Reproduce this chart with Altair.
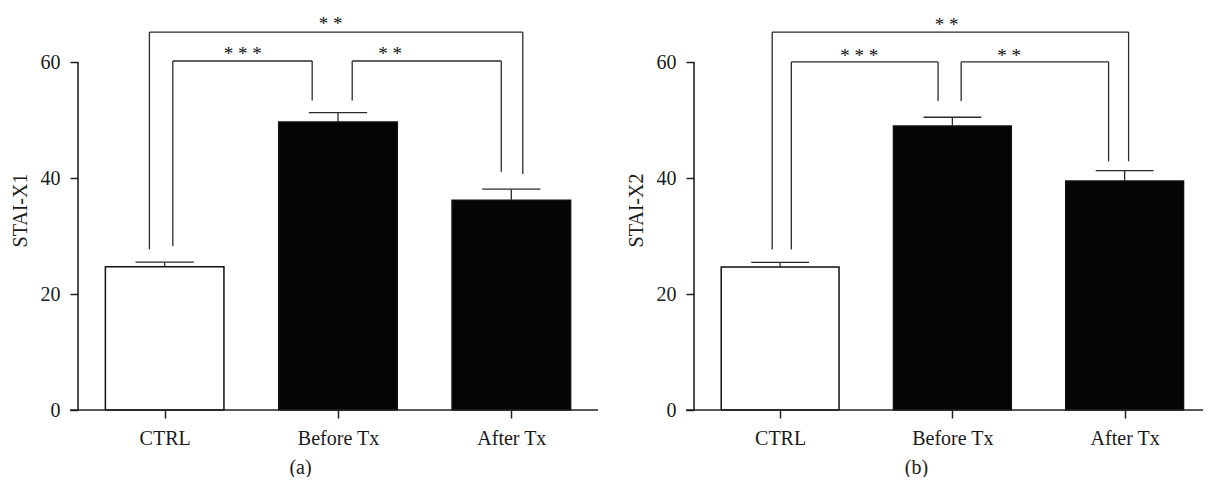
import altair as alt
import pandas as pd

# ---- data ----
groups = ["CTRL", "Before Tx", "After Tx"]
positions = [1, 2, 3]
bar_fill = ["white", "#050505", "#050505"]

a_means = [24.7, 49.7, 36.2]
a_err_top = [25.5, 51.3, 38.1]
b_means = [24.65, 49.0, 39.5]
b_err_top = [25.45, 50.5, 41.3]

# significance brackets: left x, right x, top y, left-leg bottom, right-leg bottom
a_br_x1 = [1.047, 2.082, 0.912]
a_br_x2 = [1.851, 2.942, 3.066]
a_br_top = [60.2, 60.2, 65.2]
a_br_y1 = [28.3, 53.4, 27.7]
a_br_y2 = [53.4, 41.1, 40.7]
a_lab = ["* * *", "* *", "* *"]
a_lab_x = [1.45, 2.30, 1.957]
a_lab_y = [62.2, 62.2, 67.5]

b_br_x1 = [1.065, 2.051, 0.954]
b_br_x2 = [1.917, 2.907, 3.023]
b_br_top = [60.05, 60.05, 65.2]
b_br_y1 = [27.7, 53.3, 27.7]
b_br_y2 = [53.3, 42.9, 42.9]
b_lab = ["* * *", "* *", "* *"]
b_lab_x = [1.46, 2.33, 1.967]
b_lab_y = [61.9, 61.9, 67.2]

FONT = "Liberation Serif"
BAR_HALF = 0.342
CAP_HALF = 0.168
LINE = "#2b2b2b"

label_expr = " : ".join(
    [f"datum.value == {p} ? '{g}'" for p, g in zip(positions, groups)]
) + " : ''"


def panel(means, tops, x1, x2, top, y1, y2, lab, lab_x, lab_y,
          ytitle, xtitle, xmax, px_per_unit):
    bars = pd.DataFrame({"group": groups, "pos": positions, "mean": means,
                         "top": tops, "fill": bar_fill})
    seg_rows = []
    for i in range(len(x1)):
        seg_rows.append({"x": x1[i], "y": y1[i], "x2": x1[i], "y2": top[i]})
        seg_rows.append({"x": x1[i], "y": top[i], "x2": x2[i], "y2": top[i]})
        seg_rows.append({"x": x2[i], "y": top[i], "x2": x2[i], "y2": y2[i]})
    segs = pd.DataFrame(seg_rows)
    labels = pd.DataFrame({"t": lab, "x": lab_x, "y": lab_y})

    xscale = alt.Scale(domain=[0.5, xmax], nice=False, zero=False)
    yscale = alt.Scale(domain=[0, 69], nice=False)

    xaxis = alt.Axis(values=positions, labelExpr=label_expr, domain=False,
                     grid=False, tickSize=8, labelPadding=10, title=xtitle,
                     titleX=222, titleY=57, titleBaseline="middle",
                     titleAlign="center", titleAngle=0)
    yaxis = alt.Axis(values=[0, 20, 40, 60], domain=False, grid=False,
                     tickSize=8, labelPadding=10, title=ytitle, titlePadding=10)

    base = alt.Chart(bars)
    rect = base.mark_rect(stroke="#111111", strokeWidth=1.5).transform_calculate(
        xa=f"datum.pos - {BAR_HALF}", xb=f"datum.pos + {BAR_HALF}"
    ).encode(
        x=alt.X("xa:Q", scale=xscale, axis=xaxis),
        x2="xb:Q",
        y=alt.Y("mean:Q", scale=yscale, axis=yaxis),
        y2=alt.datum(0),
        fill=alt.Fill("fill:N", scale=None),
    )
    err_v = base.mark_rule(color=LINE, strokeWidth=1.3).encode(
        x="pos:Q", y="mean:Q", y2="top:Q")
    err_cap = base.mark_rule(color=LINE, strokeWidth=1.3).transform_calculate(
        xa=f"datum.pos - {CAP_HALF}", xb=f"datum.pos + {CAP_HALF}"
    ).encode(x="xa:Q", x2="xb:Q", y="top:Q")

    brackets = alt.Chart(segs).mark_rule(color=LINE, strokeWidth=1.3).encode(
        x="x:Q", x2="x2:Q", y="y:Q", y2="y2:Q")
    stars = alt.Chart(labels).mark_text(font=FONT, fontSize=19, dy=5,
                                        baseline="middle", color="#111111").encode(
        x="x:Q", y="y:Q", text="t:N")

    # axis lines (y-axis stops at 60; x-axis starts a tick-length left of y-axis)
    ax_df = pd.DataFrame({"x": [0.5, 0.5 - 8 / px_per_unit],
                          "x2": [0.5, xmax], "y": [0, 0], "y2": [60, 0]})
    ax_lines = alt.Chart(ax_df).mark_rule(color="#222222", strokeWidth=1.6).encode(
        x="x:Q", x2="x2:Q", y="y:Q", y2="y2:Q")

    width = round((xmax - 0.5) * px_per_unit)
    return alt.layer(rect, err_v, err_cap, brackets, stars, ax_lines).properties(
        width=width, height=400)


pa = panel(a_means, a_err_top, a_br_x1, a_br_x2, a_br_top, a_br_y1, a_br_y2,
           a_lab, a_lab_x, a_lab_y, "STAI-X1", "(a)", 3.5, 173.3)
pb = panel(b_means, b_err_top, b_br_x1, b_br_x2, b_br_top, b_br_y1, b_br_y2,
           b_lab, b_lab_x, b_lab_y, "STAI-X2", "(b)", 3.455, 172.2)

chart = alt.hconcat(pa, pb, spacing=27).properties(
    padding={"left": 2, "top": 2, "right": 0, "bottom": 0}
).configure_view(stroke=None).configure_axis(
    labelFont=FONT, labelFontSize=20, labelColor="#1a1a1a",
    titleFont=FONT, titleFontSize=20, titleColor="#1a1a1a", titleFontWeight="normal",
    tickColor="#222222", tickWidth=1.5,
)

chart.save("out.html", embed_options={"renderer": "svg", "actions": False})
